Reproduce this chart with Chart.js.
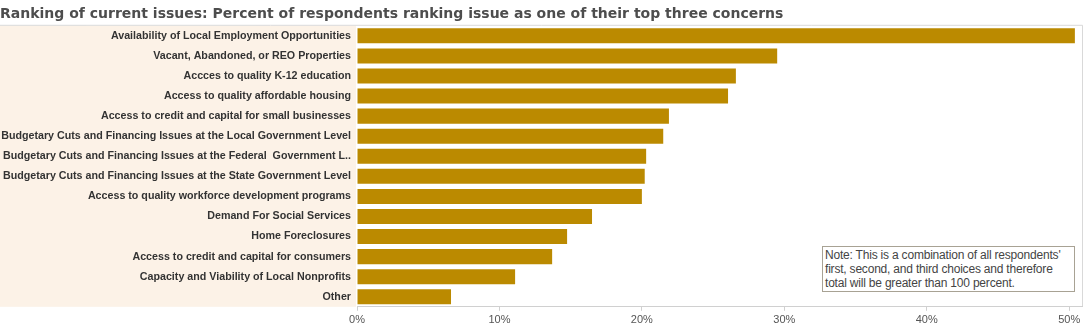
<!DOCTYPE html>
<html>
<head>
<meta charset="utf-8">
<script src="https://cdn.jsdelivr.net/npm/chart.js@4"></script>
<style>
    body { margin: 0; background: #fff; }
    #wrap { position: relative; width: 1084px; height: 331px; }
    #note {
        position: absolute; left: 822px; top: 246px; width: 247px; height: 42px;
        border: 1px solid #a8a294; padding: 1px 2px;
        font: 12px "Liberation Sans", Arial, sans-serif; line-height: 14px; color: #444;
        background: #fff; letter-spacing: -0.2px;
    }
</style>
</head>
<body>
<div id="wrap">
    <canvas id="chart"></canvas>
    <div id="note">Note: This is a combination of all respondents' first, second, and third choices and therefore total will be greater than 100 percent.</div>
</div>
<script>
const issues = [
    "Availability of Local Employment Opportunities",
    "Vacant, Abandoned, or REO Properties",
    "Accces to quality K-12 education",
    "Access to quality affordable housing",
    "Access to credit and capital for small businesses",
    "Budgetary Cuts and Financing Issues at the Local Government Level",
    "Budgetary Cuts and Financing Issues at the Federal  Government L..",
    "Budgetary Cuts and Financing Issues at the State Government Level",
    "Access to quality workforce development programs",
    "Demand For Social Services",
    "Home Foreclosures",
    "Access to credit and capital for consumers",
    "Capacity and Viability of Local Nonprofits",
    "Other",
];
const percents = [50.4, 29.5, 26.6, 26.05, 21.9, 21.5, 20.3, 20.2, 20.0, 16.5, 14.75, 13.7, 11.1, 6.6];
const xTicks = [0, 10, 20, 30, 40, 50];

const labelBand = {
    id: "labelBand",
    beforeDraw(chart) {
        const { ctx, chartArea } = chart;
        ctx.save();
        ctx.fillStyle = "#fcf2e7";
        ctx.fillRect(0, chartArea.top, chartArea.left - 1, chartArea.bottom - chartArea.top);
        ctx.strokeStyle = "#d9d9d9";
        ctx.lineWidth = 1;
        ctx.beginPath();
        ctx.moveTo(0, chartArea.top - 0.5);
        ctx.lineTo(chartArea.right + 0.5, chartArea.top - 0.5);
        ctx.moveTo(chartArea.right + 0.5, chartArea.top - 0.5);
        ctx.lineTo(chartArea.right + 0.5, chartArea.bottom);
        ctx.stroke();
        ctx.restore();
    },
};

new Chart(document.getElementById("chart"), {
    type: "bar",
    data: {
        labels: issues,
        datasets: [{
            data: percents,
            backgroundColor: "#bb8a00",
            barPercentage: 0.75,
            categoryPercentage: 1,
        }],
    },
    options: {
        indexAxis: "y",
        responsive: true,
        maintainAspectRatio: false,
        animation: false,
        layout: { padding: { top: 0, right: 2, bottom: 1, left: 0 } },
        plugins: {
            legend: { display: false },
            tooltip: { enabled: false },
            title: {
                display: true,
                align: "start",
                text: "Ranking of current issues: Percent of respondents ranking issue as one of their top three concerns",
                color: "#4d4d4d",
                font: { family: "DejaVu Sans", size: 14, weight: "bold" },
                padding: { top: 6, bottom: 3 },
            },
        },
        scales: {
            x: {
                min: 0,
                max: 50.9,
                afterBuildTicks: (scale) => { scale.ticks = xTicks.map((v) => ({ value: v })); },
                grid: { drawOnChartArea: false, drawTicks: true, tickLength: 4, color: "#d0d0d0" },
                border: { display: true, color: "#d0d0d0" },
                ticks: {
                    color: "#555",
                    font: { family: "Liberation Sans", size: 11 },
                    padding: 3,
                    autoSkip: false,
                    maxRotation: 0,
                    callback: (value) => value + "%",
                },
            },
            y: {
                afterFit: (scale) => { scale.width = 357; },
                grid: { display: false, drawTicks: false },
                border: { display: false },
                ticks: {
                    color: "#333",
                    font: { family: "Liberation Sans", size: 10.7, weight: "bold" },
                    padding: 6,
                    autoSkip: false,
                },
            },
        },
    },
    plugins: [labelBand],
});
</script>
</body>
</html>
